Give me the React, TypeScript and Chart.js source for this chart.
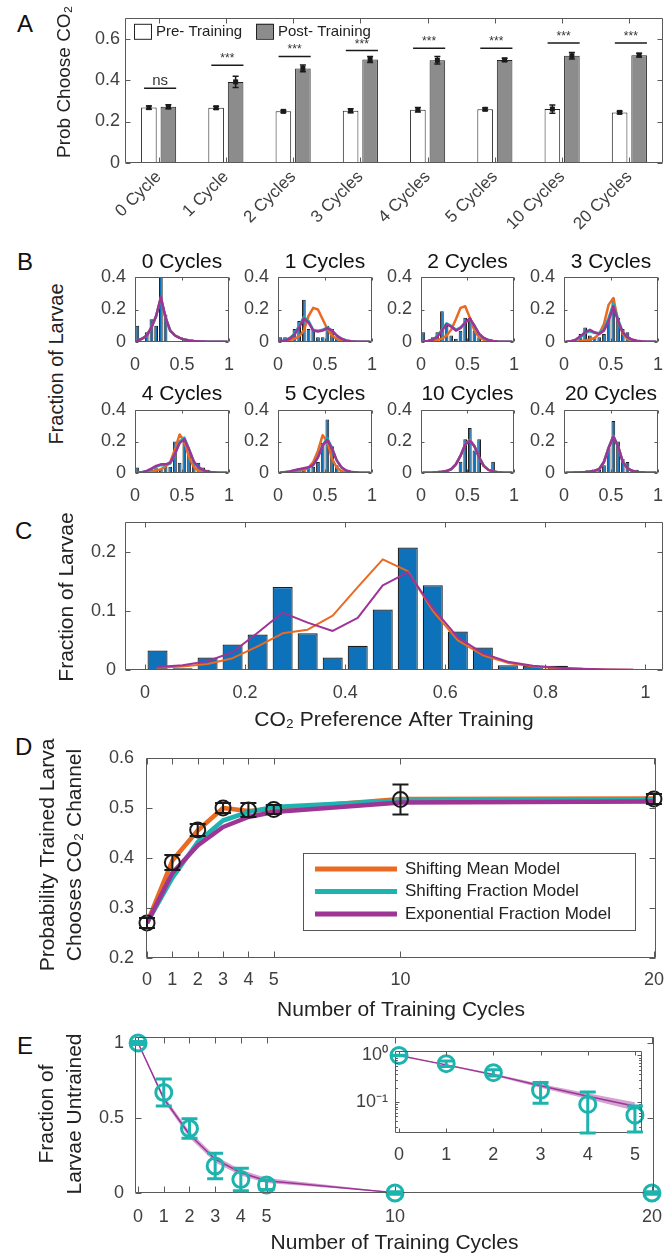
import React, { useEffect, useRef } from 'react';
import { Chart, registerables } from 'chart.js';

Chart.register(...registerables);

const FONT = "'Liberation Sans', Arial, Helvetica, sans-serif";
Chart.defaults.font.family = FONT;

const TICK_COLOR = '#404040';
const AXIS_COLOR = '#5a5a5a';
const TEXT_COLOR = '#222222';
const BLUE = '#0E72BA';
const ORANGE = '#EA6A22';
const TEAL = '#1DB4AF';
const PURPLE = '#9D3496';
const BAND = 'rgba(184, 104, 178, 0.6)';
const TICK_SIZE = 18;
const LABEL_SIZE = 21;

// ---------------- Panel A ----------------
const cycleLabels = ['0 Cycle', '1 Cycle', '2 Cycles', '3 Cycles', '4 Cycles', '5 Cycles', '10 Cycles', '20 Cycles'];
const preTraining = [0.267, 0.266, 0.249, 0.252, 0.257, 0.259, 0.26, 0.244];
const preTrainingErr = [0.008, 0.007, 0.005, 0.01, 0.011, 0.006, 0.02, 0.005];
const postTraining = [0.271, 0.391, 0.456, 0.499, 0.495, 0.497, 0.517, 0.52];
const postTrainingErr = [0.01, 0.027, 0.016, 0.014, 0.018, 0.008, 0.016, 0.009];
const sigText = ['ns', '***', '***', '***', '***', '***', '***', '***'];
const sigLevel = [0.36, 0.471, 0.514, 0.542, 0.553, 0.553, 0.579, 0.579];
const aTicks = [0, 0.2, 0.4, 0.6];

// ---------------- Panel B ----------------
const binCenters = [0.025, 0.075, 0.125, 0.175, 0.225, 0.275, 0.325, 0.375, 0.425, 0.475, 0.525, 0.575, 0.625, 0.675, 0.725, 0.775, 0.825, 0.875, 0.925, 0.975];
const bTitles = ['0 Cycles', '1 Cycles', '2 Cycles', '3 Cycles', '4 Cycles', '5 Cycles', '10 Cycles', '20 Cycles'];
const bBars = [
  [0.1, 0, 0.06, 0.14, 0.1, 0.4, 0.17, 0, 0, 0, 0, 0, 0, 0, 0, 0, 0, 0, 0, 0],
  [0.03, 0.03, 0.03, 0.08, 0.13, 0.26, 0.08, 0.08, 0.03, 0.03, 0.1, 0.08, 0.03, 0, 0, 0, 0, 0, 0, 0],
  [0.06, 0.01, 0.03, 0.06, 0.19, 0.1, 0.04, 0.02, 0.07, 0.15, 0.15, 0.07, 0.03, 0, 0, 0, 0, 0, 0, 0],
  [0, 0, 0.01, 0.05, 0.09, 0.04, 0.03, 0.03, 0.05, 0.14, 0.27, 0.15, 0.08, 0.06, 0, 0, 0, 0, 0, 0],
  [0.035, 0, 0.015, 0.03, 0.03, 0.025, 0.04, 0.04, 0.2, 0.065, 0.2, 0.13, 0.07, 0.065, 0.035, 0.02, 0, 0, 0, 0],
  [0, 0.015, 0.015, 0.02, 0.03, 0.02, 0.03, 0.04, 0.07, 0.19, 0.34, 0.17, 0.05, 0.015, 0.02, 0.01, 0.01, 0, 0, 0],
  [0, 0, 0, 0, 0, 0, 0, 0, 0.071, 0.214, 0.286, 0.143, 0.214, 0, 0, 0.071, 0, 0, 0, 0],
  [0, 0, 0, 0, 0, 0, 0.01, 0.02, 0.05, 0.16, 0.33, 0.2, 0.09, 0.07, 0, 0.02, 0, 0, 0, 0],
];
const bMeanModel = [
  [0.01, 0.02, 0.04, 0.09, 0.16, 0.275, 0.15, 0.07, 0.04, 0.025, 0.015, 0.01, 0.006, 0.004, 0.003, 0.002, 0.001, 0.001, 0.001, 0.001],
  [0.004, 0.007, 0.012, 0.02, 0.035, 0.07, 0.16, 0.21, 0.2, 0.14, 0.08, 0.04, 0.02, 0.01, 0.005, 0.003, 0.002, 0.001, 0.001, 0],
  [0.002, 0.004, 0.007, 0.012, 0.02, 0.04, 0.075, 0.14, 0.21, 0.22, 0.15, 0.07, 0.03, 0.013, 0.006, 0.003, 0.002, 0.001, 0.001, 0],
  [0.001, 0.002, 0.003, 0.005, 0.01, 0.015, 0.025, 0.05, 0.11, 0.23, 0.27, 0.13, 0.05, 0.02, 0.008, 0.004, 0.002, 0.001, 0.001, 0],
  [0.001, 0.002, 0.004, 0.008, 0.015, 0.025, 0.04, 0.07, 0.15, 0.245, 0.2, 0.1, 0.04, 0.015, 0.006, 0.003, 0.001, 0.001, 0, 0],
  [0.001, 0.002, 0.004, 0.007, 0.012, 0.02, 0.035, 0.07, 0.14, 0.24, 0.2, 0.09, 0.035, 0.013, 0.005, 0.002, 0.001, 0, 0, 0],
  [0.001, 0.002, 0.003, 0.005, 0.008, 0.012, 0.025, 0.055, 0.11, 0.18, 0.21, 0.17, 0.1, 0.045, 0.02, 0.01, 0.005, 0.003, 0.002, 0.001],
  [0.001, 0.002, 0.003, 0.004, 0.006, 0.009, 0.014, 0.025, 0.07, 0.16, 0.235, 0.17, 0.07, 0.03, 0.014, 0.007, 0.004, 0.002, 0.001, 0.001],
];
const bFractionModel = [
  [0.01, 0.02, 0.04, 0.09, 0.16, 0.27, 0.15, 0.07, 0.04, 0.025, 0.015, 0.01, 0.006, 0.004, 0.003, 0.002, 0.001, 0.001, 0.001, 0.001],
  [0.005, 0.01, 0.025, 0.05, 0.1, 0.155, 0.13, 0.075, 0.07, 0.075, 0.09, 0.07, 0.04, 0.02, 0.01, 0.005, 0.003, 0.002, 0.001, 0.001],
  [0.003, 0.006, 0.015, 0.035, 0.075, 0.115, 0.1, 0.075, 0.09, 0.12, 0.14, 0.1, 0.05, 0.025, 0.012, 0.006, 0.003, 0.002, 0.001, 0.001],
  [0.002, 0.005, 0.012, 0.03, 0.055, 0.065, 0.055, 0.055, 0.08, 0.15, 0.235, 0.14, 0.06, 0.028, 0.013, 0.006, 0.003, 0.002, 0.001, 0.001],
  [0.002, 0.005, 0.012, 0.025, 0.04, 0.05, 0.05, 0.06, 0.12, 0.2, 0.225, 0.15, 0.07, 0.035, 0.017, 0.008, 0.004, 0.002, 0.001, 0.001],
  [0.002, 0.005, 0.01, 0.016, 0.022, 0.027, 0.033, 0.05, 0.1, 0.18, 0.22, 0.16, 0.08, 0.035, 0.015, 0.007, 0.003, 0.002, 0.001, 0.001],
  [0.001, 0.002, 0.003, 0.005, 0.008, 0.012, 0.025, 0.055, 0.11, 0.18, 0.21, 0.17, 0.1, 0.045, 0.02, 0.01, 0.005, 0.003, 0.002, 0.001],
  [0.001, 0.002, 0.003, 0.004, 0.006, 0.009, 0.014, 0.025, 0.07, 0.16, 0.235, 0.17, 0.07, 0.03, 0.014, 0.007, 0.004, 0.002, 0.001, 0.001],
];
const bExpModel = [
  [0.01, 0.02, 0.04, 0.09, 0.16, 0.275, 0.15, 0.07, 0.04, 0.025, 0.015, 0.01, 0.006, 0.004, 0.003, 0.002, 0.001, 0.001, 0.001, 0.001],
  [0.005, 0.01, 0.02, 0.045, 0.09, 0.145, 0.12, 0.07, 0.065, 0.07, 0.085, 0.07, 0.04, 0.02, 0.01, 0.005, 0.003, 0.002, 0.001, 0.001],
  [0.003, 0.006, 0.014, 0.032, 0.07, 0.11, 0.095, 0.07, 0.085, 0.12, 0.145, 0.1, 0.05, 0.025, 0.012, 0.006, 0.003, 0.002, 0.001, 0.001],
  [0.002, 0.005, 0.015, 0.035, 0.06, 0.075, 0.06, 0.05, 0.07, 0.13, 0.22, 0.13, 0.06, 0.03, 0.015, 0.008, 0.004, 0.002, 0.001, 0.001],
  [0.002, 0.005, 0.013, 0.028, 0.045, 0.055, 0.055, 0.065, 0.12, 0.19, 0.215, 0.15, 0.075, 0.037, 0.018, 0.009, 0.004, 0.002, 0.001, 0.001],
  [0.002, 0.005, 0.01, 0.017, 0.024, 0.03, 0.036, 0.052, 0.1, 0.175, 0.21, 0.155, 0.08, 0.037, 0.016, 0.008, 0.004, 0.002, 0.001, 0.001],
  [0.001, 0.002, 0.003, 0.005, 0.008, 0.012, 0.025, 0.055, 0.11, 0.18, 0.205, 0.17, 0.1, 0.045, 0.02, 0.01, 0.005, 0.003, 0.002, 0.001],
  [0.001, 0.002, 0.003, 0.004, 0.006, 0.009, 0.014, 0.025, 0.07, 0.16, 0.23, 0.17, 0.07, 0.03, 0.014, 0.007, 0.004, 0.002, 0.001, 0.001],
];
const bXTicks = [0, 0.5, 1];
const bYTicks = [0, 0.2, 0.4];

// ---------------- Panel C ----------------
const cBars = [0.033, 0.003, 0.021, 0.043, 0.06, 0.14, 0.062, 0.021, 0.041, 0.102, 0.207, 0.143, 0.065, 0.038, 0.008, 0.007, 0.007, 0, 0, 0];
const cMeanModel = [0.004, 0.006, 0.01, 0.02, 0.04, 0.062, 0.068, 0.092, 0.14, 0.187, 0.167, 0.1, 0.05, 0.025, 0.012, 0.006, 0.003, 0.002, 0.001, 0.0005];
const cExpModel = [0.005, 0.008, 0.015, 0.03, 0.063, 0.097, 0.08, 0.066, 0.088, 0.143, 0.165, 0.105, 0.055, 0.028, 0.014, 0.007, 0.004, 0.002, 0.001, 0.0005];
const cXTicks = [0, 0.2, 0.4, 0.6, 0.8, 1];
const cYTicks = [0, 0.1, 0.2];

// ---------------- Panel D ----------------
const dCycles = [0, 1, 2, 3, 4, 5, 10, 20];
const dProb = [0.27, 0.391, 0.456, 0.5, 0.496, 0.497, 0.517, 0.518];
const dProbErr = [0.01, 0.015, 0.012, 0.01, 0.014, 0.009, 0.03, 0.01];
const dMeanModel = [0.27, 0.395, 0.455, 0.5, 0.494, 0.498, 0.518, 0.519];
const dFractionModel = [0.27, 0.36, 0.432, 0.475, 0.492, 0.502, 0.515, 0.517];
const dExpModel = [0.27, 0.37, 0.425, 0.462, 0.482, 0.492, 0.511, 0.513];
const dLegendLabels = ['Shifting Mean Model', 'Shifting Fraction Model', 'Exponential Fraction Model'];
const dYTicks = [0.2, 0.3, 0.4, 0.5, 0.6];

// ---------------- Panel E ----------------
const eCycles = [0, 1, 2, 3, 4, 5, 10, 20];
const eUntrained = [1, 0.67, 0.43, 0.18, 0.09, 0.053, 0, 0];
const eUntrainedErr = [0.01, 0.09, 0.065, 0.085, 0.075, 0.03, 0.008, 0.008];
const eFit = [1, 0.63, 0.39, 0.225, 0.135, 0.082, 0.002, 0];
const eFitHigh = [1, 0.648, 0.412, 0.247, 0.155, 0.1, 0.004, 0];
const eFitLow = [1, 0.612, 0.368, 0.203, 0.117, 0.066, 0.001, 0];
const eYTicks = [0, 0.5, 1];
const insetCycles = [0, 1, 2, 3, 4, 5];
const insetYTicks = [0.1, 1];
const insetMinorTicks = [0.03, 0.04, 0.05, 0.06, 0.07, 0.08, 0.09, 0.2, 0.3, 0.4, 0.5, 0.6, 0.7, 0.8, 0.9];

// ---------------- layout helpers ----------------
type Area = { L: number; T: number; R: number; B: number; yW: number; xH: number; padT?: number; padR?: number };

function frameOf(a: Area) {
  const padT = a.padT ?? 14;
  const padR = a.padR ?? 12;
  const left = a.L - a.yW;
  const top = a.T - padT;
  const width = Math.round(a.R + padR - left);
  const height = Math.round(a.B + a.xH - top);
  return { left, top, width, height, padding: { left: 0, top: padT, right: padR, bottom: 0 } };
}

const fmtNum = (v: number) => String(Math.round(v * 1000) / 1000);

function linAxis(kind: 'x' | 'y', a: Area, min: number, max: number, vals: number[], pad: number, extra: any = {}) {
  return {
    type: 'linear',
    min,
    max,
    bounds: 'data',
    offset: false,
    grid: { display: false, drawTicks: false },
    border: { display: false },
    afterBuildTicks: (s: any) => {
      s.ticks = vals.map((v) => ({ value: v }));
    },
    afterFit: (s: any) => {
      if (kind === 'x') s.height = a.xH;
      else s.width = a.yW;
    },
    ticks: {
      padding: pad,
      color: TICK_COLOR,
      font: { size: TICK_SIZE, family: FONT },
      autoSkip: false,
      maxRotation: 0,
      minRotation: 0,
      callback: (v: any) => fmtNum(Number(v)),
    },
    title: { display: false },
    ...extra,
  };
}

function xTitle(text: string, centerY: number, a: Area, size = LABEL_SIZE) {
  const lh = size * 1.2;
  const bottomPad = Math.max(0, a.B + a.xH - centerY - lh / 2);
  return { display: true, text, color: TEXT_COLOR, font: { size, family: FONT, lineHeight: lh + 'px' }, padding: { top: 0, bottom: bottomPad } };
}

function makeBox(tickLen: number, yMinor: number[] = []) {
  return {
    id: 'mbox',
    afterDatasetsDraw(chart: any) {
      const { ctx, chartArea: ca, scales } = chart;
      const L = Math.round(ca.left) + 0.5;
      const R = Math.round(ca.right) - 0.5;
      const T = Math.round(ca.top) + 0.5;
      const B = Math.round(ca.bottom) - 0.5;
      ctx.save();
      ctx.strokeStyle = AXIS_COLOR;
      ctx.lineWidth = 1;
      ctx.beginPath();
      ctx.rect(L, T, R - L, B - T);
      const xs = scales.x;
      const ys = scales.y;
      xs.ticks.forEach((_t: any, i: number) => {
        const p = Math.round(xs.getPixelForTick(i)) + 0.5;
        ctx.moveTo(p, B);
        ctx.lineTo(p, B - tickLen);
        ctx.moveTo(p, T);
        ctx.lineTo(p, T + tickLen);
      });
      ys.ticks.forEach((_t: any, i: number) => {
        const p = Math.round(ys.getPixelForTick(i)) + 0.5;
        ctx.moveTo(L, p);
        ctx.lineTo(L + tickLen, p);
        ctx.moveTo(R, p);
        ctx.lineTo(R - tickLen, p);
      });
      yMinor.forEach((v) => {
        const p = Math.round(ys.getPixelForValue(v)) + 0.5;
        ctx.moveTo(L, p);
        ctx.lineTo(L + tickLen * 0.6, p);
        ctx.moveTo(R, p);
        ctx.lineTo(R - tickLen * 0.6, p);
      });
      ctx.stroke();
      ctx.restore();
    },
  };
}

function makeYLabel(a: Area, lines: string[], pageX: number, pageCy: number, lh: number, size: number) {
  const f = frameOf(a);
  return {
    id: 'ylabel',
    afterDraw(chart: any) {
      const { ctx } = chart;
      ctx.save();
      ctx.fillStyle = TEXT_COLOR;
      ctx.font = `${size}px ${FONT}`;
      ctx.textAlign = 'center';
      ctx.textBaseline = 'middle';
      lines.forEach((line, i) => {
        ctx.save();
        ctx.translate(pageX - f.left + i * lh, pageCy - f.top);
        ctx.rotate(-Math.PI / 2);
        ctx.fillText(line, 0, 0);
        ctx.restore();
      });
      ctx.restore();
    },
  };
}

function makeSubTitle(text: string, dy: number) {
  return {
    id: 'subtitle',
    afterDraw(chart: any) {
      const { ctx, chartArea: ca } = chart;
      ctx.save();
      ctx.fillStyle = '#111';
      ctx.font = `${LABEL_SIZE}px ${FONT}`;
      ctx.textAlign = 'center';
      ctx.textBaseline = 'middle';
      ctx.fillText(text, (ca.left + ca.right) / 2, ca.top - dy);
      ctx.restore();
    },
  };
}

function drawErrorBars(chart: any, dsIndex: number, vals: number[], errs: number[], color: string, lw: number, cap: number, floor: number | null = null) {
  const { ctx, scales } = chart;
  const y = scales.y;
  const meta = chart.getDatasetMeta(dsIndex);
  ctx.save();
  ctx.strokeStyle = color;
  ctx.lineWidth = lw;
  meta.data.forEach((pt: any, i: number) => {
    const lowV = floor !== null ? Math.max(vals[i] - errs[i], floor) : vals[i] - errs[i];
    const y0 = y.getPixelForValue(lowV);
    const y1 = y.getPixelForValue(vals[i] + errs[i]);
    const px = pt.x;
    ctx.beginPath();
    ctx.moveTo(px, y0);
    ctx.lineTo(px, y1);
    ctx.moveTo(px - cap, y0);
    ctx.lineTo(px + cap, y0);
    ctx.moveTo(px - cap, y1);
    ctx.lineTo(px + cap, y1);
    ctx.stroke();
  });
  ctx.restore();
}

function ChartCanvas({ area, build }: { area: Area; build: () => any }) {
  const ref = useRef<HTMLCanvasElement | null>(null);
  const f = frameOf(area);
  useEffect(() => {
    const cfg = build();
    cfg.options = {
      ...(cfg.options || {}),
      animation: false,
      responsive: false,
      maintainAspectRatio: false,
      devicePixelRatio: 1,
      layout: { padding: f.padding },
    };
    cfg.options.plugins = { legend: { display: false }, tooltip: { enabled: false }, ...(cfg.options.plugins || {}) };
    const chart = new Chart(ref.current as HTMLCanvasElement, cfg);
    return () => chart.destroy();
  }, []);
  return (
    <canvas
      ref={ref}
      width={f.width}
      height={f.height}
      style={{ position: 'absolute', left: f.left, top: f.top, width: f.width, height: f.height }}
    />
  );
}

// ---------------- Panel A ----------------
const aArea: Area = { L: 125, T: 12, R: 663, B: 163, yW: 80, xH: 75, padT: 10 };

function buildA() {
  const extras = {
    id: 'aextras',
    afterDatasetsDraw(chart: any) {
      const { ctx, chartArea: ca, scales } = chart;
      const y = scales.y;
      const metaPre = chart.getDatasetMeta(0);
      const metaPost = chart.getDatasetMeta(1);
      const groups = [
        { meta: metaPre, mean: preTraining, err: preTrainingErr },
        { meta: metaPost, mean: postTraining, err: postTrainingErr },
      ];
      ctx.save();
      ctx.strokeStyle = '#1a1a1a';
      ctx.fillStyle = '#1a1a1a';
      ctx.lineWidth = 1.5;
      groups.forEach((g) => {
        g.meta.data.forEach((bar: any, i: number) => {
          const x = bar.x;
          const lo = y.getPixelForValue(g.mean[i] - g.err[i]);
          const hi = y.getPixelForValue(g.mean[i] + g.err[i]);
          const m = y.getPixelForValue(g.mean[i]);
          ctx.beginPath();
          ctx.moveTo(x, lo);
          ctx.lineTo(x, hi);
          ctx.moveTo(x - 3, lo);
          ctx.lineTo(x + 3, lo);
          ctx.moveTo(x - 3, hi);
          ctx.lineTo(x + 3, hi);
          ctx.stroke();
          ctx.fillRect(x - 2.5, m - 2.5, 5, 5);
        });
      });
      // significance markers
      cycleLabels.forEach((_l, i) => {
        const b0 = metaPre.data[i];
        const b1 = metaPost.data[i];
        const xl = b0.x - b0.width / 2 + 3;
        const xr = b1.x + b1.width / 2;
        const yy = y.getPixelForValue(sigLevel[i]);
        ctx.strokeStyle = '#1a1a1a';
        ctx.lineWidth = 1.5;
        ctx.beginPath();
        ctx.moveTo(xl, yy);
        ctx.lineTo(xr, yy);
        ctx.stroke();
        ctx.fillStyle = '#333';
        ctx.font = sigText[i] === 'ns' ? `15px ${FONT}` : `12px ${FONT}`;
        ctx.textAlign = 'center';
        ctx.textBaseline = 'alphabetic';
        ctx.fillText(sigText[i], (xl + xr) / 2, yy - 3);
      });
      // legend
      const lx = ca.left;
      const ly = ca.top;
      ctx.lineWidth = 1;
      ctx.strokeStyle = '#222';
      ctx.fillStyle = '#ffffff';
      ctx.fillRect(lx + 9, ly + 6, 17, 15);
      ctx.strokeRect(lx + 9.5, ly + 6.5, 17, 15);
      ctx.fillStyle = '#8c8c8c';
      ctx.fillRect(lx + 131, ly + 6, 17, 15);
      ctx.strokeRect(lx + 131.5, ly + 6.5, 17, 15);
      ctx.fillStyle = TEXT_COLOR;
      ctx.font = `15px ${FONT}`;
      ctx.textAlign = 'left';
      ctx.textBaseline = 'middle';
      ctx.fillText(chart.data.datasets[0].label, lx + 31, ly + 14);
      ctx.fillText(chart.data.datasets[1].label, lx + 153, ly + 14);
      ctx.restore();
    },
  };
  return {
    type: 'bar',
    data: {
      labels: cycleLabels,
      datasets: [
        { label: 'Pre- Training', data: preTraining, backgroundColor: '#ffffff', borderColor: '#222', borderWidth: 1, categoryPercentage: 0.58, barPercentage: 0.8 },
        { label: 'Post- Training', data: postTraining, backgroundColor: '#8c8c8c', borderColor: '#222', borderWidth: 1, categoryPercentage: 0.58, barPercentage: 0.8 },
      ],
    },
    options: {
      scales: {
        x: {
          type: 'category',
          offset: true,
          grid: { display: false, drawTicks: false },
          border: { display: false },
          afterFit: (s: any) => {
            s.height = aArea.xH;
          },
          ticks: { padding: 4, color: TICK_COLOR, font: { size: 17, family: FONT }, maxRotation: 45, minRotation: 45, autoSkip: false },
        },
        y: linAxis('y', aArea, 0, 0.7, aTicks, 5),
      },
    },
    plugins: [makeBox(5), extras, makeYLabel(aArea, ['Prob Choose CO₂'], 65, 82, 24, 19)],
  };
}

// ---------------- Histograms (B and C) ----------------
function buildHist(a: Area, bars: number[], mean: number[] | null, frac: number[] | null, exp: number[] | null, o: any) {
  const pts = (ys: number[]) => binCenters.map((x, i) => ({ x, y: ys[i] }));
  const barPts = binCenters.map((x, i) => ({ x, y: bars[i] })).filter((p) => p.y > 0);
  const lineBase = { type: 'line', pointRadius: 0, borderWidth: o.lw, borderJoinStyle: 'round', borderCapStyle: 'round', tension: 0, fill: false };
  const ds: any[] = [
    { type: 'bar', data: barPts, backgroundColor: BLUE, borderColor: '#1d1d1d', borderWidth: o.barBorder, borderSkipped: 'start', barPercentage: 0.8, categoryPercentage: 1, order: 10 },
  ];
  if (mean) ds.push({ ...lineBase, data: pts(mean), borderColor: ORANGE, order: 3 });
  if (frac) ds.push({ ...lineBase, data: pts(frac), borderColor: TEAL, order: 2 });
  if (exp) ds.push({ ...lineBase, data: pts(exp), borderColor: PURPLE, order: 1 });
  const plugins: any[] = [makeBox(o.tickLen)];
  if (o.title) plugins.push(makeSubTitle(o.title, o.titleDy));
  if (o.yLabel) plugins.push(o.yLabel);
  return {
    type: 'bar',
    data: { datasets: ds },
    options: {
      scales: {
        x: linAxis('x', a, o.xMin, o.xMax, o.xTicks, o.xPad, o.xTitle ? { title: o.xTitle } : {}),
        y: linAxis('y', a, 0, o.yMax, o.yTicks, o.yPad),
      },
    },
    plugins,
  };
}

const bColL = [135, 278, 421, 564];
const bColR = [234, 377, 519, 663];
const bRowT = [277, 410];
const bRowB = [342, 473];
const bAreas: Area[] = bTitles.map((_t, i) => {
  const r = i < 4 ? 0 : 1;
  const c = i % 4;
  return { L: bColL[c], R: bColR[c], T: bRowT[r], B: bRowB[r], yW: 40, xH: 36, padT: 34, padR: 12 };
});

function buildB(i: number) {
  return buildHist(bAreas[i], bBars[i], bMeanModel[i], bFractionModel[i], bExpModel[i], {
    lw: 2.5,
    barBorder: 1,
    tickLen: 3,
    title: bTitles[i],
    titleDy: i < 4 ? 15 : 16,
    xMin: 0,
    xMax: 1,
    xTicks: bXTicks,
    yMax: 0.4,
    yTicks: bYTicks,
    xPad: 12,
    yPad: 9,
  });
}

const cArea: Area = { L: 125, T: 522, R: 663, B: 670, yW: 80, xH: 65, padT: 22 };
function buildC() {
  return buildHist(cArea, cBars, cMeanModel, null, cExpModel, {
    lw: 2,
    barBorder: 1.2,
    tickLen: 5,
    xMin: -0.04,
    xMax: 1.035,
    xTicks: cXTicks,
    yMax: 0.25,
    yTicks: cYTicks,
    xPad: 12,
    yPad: 9,
    xTitle: xTitle('CO₂ Preference After Training', 720, cArea),
    yLabel: makeYLabel(cArea, ['Fraction of Larvae'], 67, 597, 25, LABEL_SIZE),
  });
}

// ---------------- Panel D ----------------
const dArea: Area = { L: 146, T: 758, R: 663, B: 958, yW: 115, xH: 66, padT: 34 };
function buildD() {
  const pts = (ys: number[]) => dCycles.map((x, i) => ({ x, y: ys[i] }));
  const lineBase = { pointRadius: 0, borderWidth: 4.5, tension: 0, fill: false, borderJoinStyle: 'round' };
  const extras = {
    id: 'dextras',
    afterDatasetsDraw(chart: any) {
      drawErrorBars(chart, 3, dProb, dProbErr, '#1a1a1a', 2, 8);
      const { ctx, chartArea: ca } = chart;
      const bx = Math.round(ca.left) + 157;
      const by = Math.round(ca.top) + 95;
      const bw = 332;
      const bh = 77;
      const colors = [ORANGE, TEAL, PURPLE];
      ctx.save();
      ctx.fillStyle = '#fff';
      ctx.fillRect(bx, by, bw, bh);
      ctx.strokeStyle = '#555';
      ctx.lineWidth = 1;
      ctx.strokeRect(bx + 0.5, by + 0.5, bw, bh);
      dLegendLabels.forEach((lab, i) => {
        const yy = by + 16 + i * 22.5;
        ctx.strokeStyle = colors[i];
        ctx.lineWidth = 5;
        ctx.beginPath();
        ctx.moveTo(bx + 12, yy);
        ctx.lineTo(bx + 94, yy);
        ctx.stroke();
        ctx.fillStyle = TEXT_COLOR;
        ctx.font = `17px ${FONT}`;
        ctx.textAlign = 'left';
        ctx.textBaseline = 'middle';
        ctx.fillText(lab, bx + 102, yy);
      });
      ctx.restore();
    },
  };
  return {
    type: 'line',
    data: {
      datasets: [
        { ...lineBase, data: pts(dMeanModel), borderColor: ORANGE, order: 3 },
        { ...lineBase, data: pts(dFractionModel), borderColor: TEAL, order: 2 },
        { ...lineBase, data: pts(dExpModel), borderColor: PURPLE, order: 1 },
        { data: pts(dProb), showLine: false, pointRadius: 7.5, pointBorderWidth: 2, pointBorderColor: '#1a1a1a', pointBackgroundColor: 'rgba(255,255,255,0)', order: 0, clip: false },
      ],
    },
    options: {
      scales: {
        x: linAxis('x', dArea, -0.04, 20.08, dCycles, 11, { title: xTitle('Number of Training Cycles', 1010, dArea) }),
        y: linAxis('y', dArea, 0.2, 0.6, dYTicks, 12),
      },
    },
    plugins: [makeBox(6), extras, makeYLabel(dArea, ['Probability Trained Larva', 'Chooses CO₂ Channel'], 48, 855, 27, LABEL_SIZE)],
  };
}

// ---------------- Panel E ----------------
const eArea: Area = { L: 135, T: 1037, R: 663, B: 1193, yW: 105, xH: 63, padT: 22 };
function buildE() {
  const pts = (ys: number[]) => eCycles.map((x, i) => ({ x, y: ys[i] }));
  const extras = {
    id: 'eextras',
    afterDatasetsDraw(chart: any) {
      drawErrorBars(chart, 3, eUntrained, eUntrainedErr, TEAL, 3, 8);
    },
  };
  return {
    type: 'line',
    data: {
      datasets: [
        { data: pts(eFitHigh), borderWidth: 0, pointRadius: 0, fill: '+1', backgroundColor: BAND, order: 5 },
        { data: pts(eFitLow), borderWidth: 0, pointRadius: 0, fill: false, order: 5 },
        { data: pts(eFit), borderColor: PURPLE, borderWidth: 1.5, pointRadius: 0, fill: false, order: 2 },
        { data: pts(eUntrained), showLine: false, pointRadius: 8, pointBorderWidth: 3, pointBorderColor: TEAL, pointBackgroundColor: 'rgba(255,255,255,0)', order: 0, clip: false },
      ],
    },
    options: {
      scales: {
        x: linAxis('x', eArea, -0.12, 20.08, eCycles, 13, { title: xTitle('Number of Training Cycles', 1244, eArea) }),
        y: linAxis('y', eArea, 0, 1.04, eYTicks, 11),
      },
    },
    plugins: [makeBox(6), extras, makeYLabel(eArea, ['Fraction of', 'Larvae Untrained'], 47, 1114, 28, LABEL_SIZE)],
  };
}

const insetArea: Area = { L: 395, T: 1045, R: 642, B: 1133, yW: 50, xH: 34, padT: 12, padR: 12 };
function buildInset() {
  const n = insetCycles.length;
  const pts = (ys: number[]) => insetCycles.map((x, i) => ({ x, y: ys[i] }));
  const bg = {
    id: 'insetbg',
    beforeDraw(chart: any) {
      const { ctx, chartArea: ca } = chart;
      ctx.save();
      ctx.fillStyle = '#ffffff';
      ctx.fillRect(ca.left, ca.top, ca.right - ca.left, ca.bottom - ca.top);
      ctx.restore();
    },
  };
  const extras = {
    id: 'insetextras',
    afterDatasetsDraw(chart: any) {
      drawErrorBars(chart, 3, eUntrained.slice(0, n), eUntrainedErr.slice(0, n), TEAL, 3, 8, chart.scales.y.min);
    },
  };
  return {
    type: 'line',
    data: {
      datasets: [
        { data: pts(eFitHigh.slice(0, n)), borderWidth: 0, pointRadius: 0, fill: '+1', backgroundColor: BAND, order: 5 },
        { data: pts(eFitLow.slice(0, n)), borderWidth: 0, pointRadius: 0, fill: false, order: 5 },
        { data: pts(eFit.slice(0, n)), borderColor: PURPLE, borderWidth: 1.5, pointRadius: 0, fill: false, order: 2 },
        { data: pts(eUntrained.slice(0, n)), showLine: false, pointRadius: 8, pointBorderWidth: 3, pointBorderColor: TEAL, pointBackgroundColor: 'rgba(255,255,255,0)', order: 0, clip: false },
      ],
    },
    options: {
      scales: {
        x: linAxis('x', insetArea, -0.085, 5.15, insetCycles, 11),
        y: {
          ...linAxis('y', insetArea, 0.022, 1.26, insetYTicks, 7),
          type: 'logarithmic',
          ticks: {
            padding: 7,
            color: TICK_COLOR,
            font: { size: TICK_SIZE, family: FONT },
            autoSkip: false,
            callback: (v: any) => (Number(v) === 1 ? '10⁰' : Number(v) === 0.1 ? '10⁻¹' : ''),
          },
        },
      },
    },
    plugins: [bg, makeBox(4, insetMinorTicks), extras],
  };
}

// ---------------- App ----------------
const letterStyle = (left: number, top: number): React.CSSProperties => ({
  position: 'absolute',
  left,
  top,
  font: `24px ${FONT}`,
  lineHeight: '24px',
  color: '#111',
});

export default function App() {
  return (
    <div style={{ position: 'absolute', left: 0, top: 0, width: 670, height: 1256, overflow: 'hidden', background: '#fff', fontFamily: FONT }}>
      <div style={letterStyle(17, 12)}>A</div>
      <div style={letterStyle(17, 250)}>B</div>
      <div style={letterStyle(15, 519)}>C</div>
      <div style={letterStyle(15, 735)}>D</div>
      <div style={letterStyle(17, 1034)}>E</div>
      <ChartCanvas area={aArea} build={buildA} />
      {bTitles.map((t, i) => (
        <ChartCanvas key={t} area={bAreas[i]} build={() => buildB(i)} />
      ))}
      <div
        style={{
          position: 'absolute',
          left: 56,
          top: 364,
          transform: 'translate(-50%, -50%) rotate(-90deg)',
          whiteSpace: 'nowrap',
          font: `20px ${FONT}`,
          color: TEXT_COLOR,
        }}
      >
        Fraction of Larvae
      </div>
      <ChartCanvas area={cArea} build={buildC} />
      <ChartCanvas area={dArea} build={buildD} />
      <ChartCanvas area={eArea} build={buildE} />
      <ChartCanvas area={insetArea} build={buildInset} />
    </div>
  );
}
